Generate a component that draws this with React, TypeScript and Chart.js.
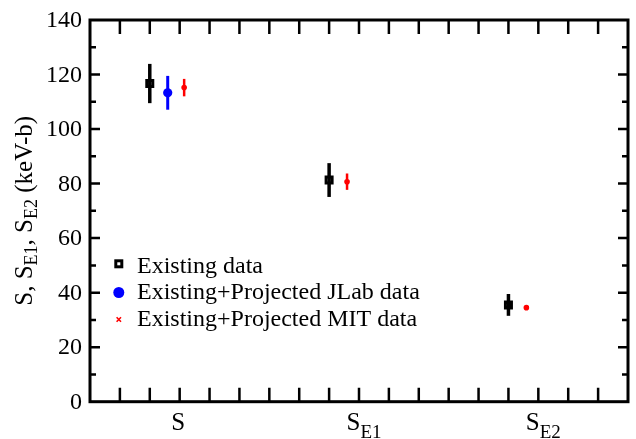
import React, { useEffect, useRef } from "react";
import { Chart, registerables } from "chart.js";

Chart.register(...registerables);

// ---- data ----
const tickMain = ["S", "S", "S"];
const tickSub = ["", "E1", "E2"];
const tickPos = [3, 9, 15];

const existingX = [2, 8, 14];
const existingY = [116.7, 81.3, 35.5];
const existingErr = [7.2, 6.2, 4.0];

const jlabX = [2.6];
const jlabY = [113.3];
const jlabErr = [6.2];

const mitX = [3.15, 8.6, 14.6];
const mitY = [115.2, 80.7, 34.5];
const mitErr = [3.2, 3.0, 0.8];

const legendLabels = [
  "Existing data",
  "Existing+Projected JLab data",
  "Existing+Projected MIT data",
];

const FONT = "'Liberation Serif', 'Times New Roman', serif";

const errorPlugin = {
  id: "errbars",
  afterDatasetsDraw(chart: any) {
    const ctx = chart.ctx;
    const ys = chart.scales.y;
    const widths = [3.5, 3, 2.5];
    const errs = [existingErr, jlabErr, mitErr];
    chart.data.datasets.forEach((ds: any, i: number) => {
      const meta = chart.getDatasetMeta(i);
      ctx.save();
      ctx.strokeStyle = ds.borderColor === "#000000" ? "#000000" : ds.backgroundColor;
      ctx.lineWidth = widths[i];
      ctx.lineCap = "butt";
      meta.data.forEach((pt: any, j: number) => {
        const v = ds.data[j].y;
        const e = errs[i][j];
        ctx.beginPath();
        ctx.moveTo(pt.x, ys.getPixelForValue(v + e));
        ctx.lineTo(pt.x, ys.getPixelForValue(v - e));
        ctx.stroke();
      });
      ctx.restore();
    });
  },
};

const framePlugin = {
  id: "frame",
  afterDraw(chart: any) {
    const ctx = chart.ctx;
    const a = chart.chartArea;
    const xs = chart.scales.x;
    const ys = chart.scales.y;
    ctx.save();
    ctx.strokeStyle = "#000";
    // ticks
    ctx.lineWidth = 2.5;
    ctx.lineCap = "butt";
    for (let v = 1; v < 18; v++) {
      const px = xs.getPixelForValue(v);
      ctx.beginPath();
      ctx.moveTo(px, a.bottom);
      ctx.lineTo(px, a.bottom - 14);
      ctx.moveTo(px, a.top);
      ctx.lineTo(px, a.top + 14);
      ctx.stroke();
    }
    for (let v = 10; v < 140; v += 10) {
      const py = ys.getPixelForValue(v);
      const len = v % 20 === 0 ? 10 : 6;
      ctx.beginPath();
      ctx.moveTo(a.left, py);
      ctx.lineTo(a.left + len, py);
      ctx.moveTo(a.right, py);
      ctx.lineTo(a.right - len, py);
      ctx.stroke();
    }
    // frame
    ctx.lineWidth = 3;
    ctx.lineJoin = "miter";
    ctx.strokeRect(a.left, a.top, a.right - a.left, a.bottom - a.top);

    // y tick labels
    ctx.fillStyle = "#000";
    ctx.font = `24px ${FONT}`;
    ctx.textAlign = "right";
    ctx.textBaseline = "middle";
    for (let v = 0; v <= 140; v += 20) {
      ctx.fillText(String(v), a.left - 8, ys.getPixelForValue(v) + 1);
    }

    // x tick labels
    ctx.textAlign = "left";
    ctx.textBaseline = "alphabetic";
    tickPos.forEach((p, i) => {
      ctx.font = `25px ${FONT}`;
      const wm = ctx.measureText(tickMain[i]).width;
      ctx.font = `19px ${FONT}`;
      const ws = tickSub[i] ? ctx.measureText(tickSub[i]).width : 0;
      const shift = tickSub[i] ? 5 : -1.5;
      const cx = xs.getPixelForValue(p) + shift;
      const x0 = cx - (wm + ws) / 2;
      ctx.font = `25px ${FONT}`;
      ctx.fillText(tickMain[i], x0, 430);
      if (tickSub[i]) {
        ctx.font = `19px ${FONT}`;
        ctx.fillText(tickSub[i], x0 + wm, 438);
      }
    });

    // y title
    const parts: [string, boolean][] = [
      ["S, S", false],
      ["E1", true],
      [", S", false],
      ["E2", true],
      [" (keV-b)", false],
    ];
    let total = 0;
    parts.forEach(([t, sub]) => {
      ctx.font = sub ? `18px ${FONT}` : `25px ${FONT}`;
      total += ctx.measureText(t).width;
    });
    ctx.save();
    ctx.translate(32, (a.top + a.bottom) / 2);
    ctx.rotate(-Math.PI / 2);
    let x = -total / 2;
    parts.forEach(([t, sub]) => {
      ctx.font = sub ? `18px ${FONT}` : `25px ${FONT}`;
      ctx.fillText(t, x, sub ? 5 : 0);
      x += ctx.measureText(t).width;
    });
    ctx.restore();

    // legend
    const mx = 118.8;
    const tx = 137;
    const baselines = [272.7, 299.3, 326];
    const my = [263.8, 292.5, 319.5];
    // black square
    ctx.fillStyle = "#fff";
    ctx.strokeStyle = "#000";
    ctx.lineWidth = 3;
    ctx.fillRect(mx - 3, my[0] - 3, 6, 6);
    ctx.strokeRect(mx - 3, my[0] - 3, 6, 6);
    // blue circle
    ctx.fillStyle = "#0000ff";
    ctx.beginPath();
    ctx.arc(mx, my[1], 5.5, 0, Math.PI * 2);
    ctx.fill();
    // red x
    ctx.strokeStyle = "#ff0000";
    ctx.lineWidth = 1.6;
    ctx.beginPath();
    ctx.moveTo(mx - 2.2, my[2] - 2.2);
    ctx.lineTo(mx + 2.2, my[2] + 2.2);
    ctx.moveTo(mx + 2.2, my[2] - 2.2);
    ctx.lineTo(mx - 2.2, my[2] + 2.2);
    ctx.stroke();
    ctx.fillStyle = "#000";
    ctx.font = `24px ${FONT}`;
    legendLabels.forEach((l, i) => ctx.fillText(l, tx, baselines[i]));
    ctx.restore();
  },
};

export default function App() {
  const ref = useRef<HTMLCanvasElement | null>(null);
  useEffect(() => {
    if (!ref.current) return;
    const chart = new Chart(ref.current, {
      type: "scatter",
      data: {
        datasets: [
          {
            label: legendLabels[0],
            data: existingX.map((x, i) => ({ x, y: existingY[i] })),
            pointStyle: "rect",
            pointRadius: 4.25,
            borderWidth: 3,
            borderColor: "#000000",
            backgroundColor: "#ffffff",
          },
          {
            label: legendLabels[1],
            data: jlabX.map((x, i) => ({ x, y: jlabY[i] })),
            pointStyle: "circle",
            pointRadius: 4.6,
            borderWidth: 0,
            borderColor: "#0000ff",
            backgroundColor: "#0000ff",
          },
          {
            label: legendLabels[2],
            data: mitX.map((x, i) => ({ x, y: mitY[i] })),
            pointStyle: "circle",
            pointRadius: 2.8,
            borderWidth: 0,
            borderColor: "#ff0000",
            backgroundColor: "#ff0000",
          },
        ],
      },
      options: {
        animation: false,
        responsive: false,
        devicePixelRatio: 1,
        layout: { padding: { left: 90, top: 20, right: 8, bottom: 37.3 } },
        scales: {
          x: { type: "linear", min: 0, max: 18, display: false },
          y: { type: "linear", min: 0, max: 140, display: false },
        },
        plugins: {
          legend: { display: false },
          tooltip: { enabled: false },
        },
      },
      plugins: [errorPlugin, framePlugin],
    });
    return () => chart.destroy();
  }, []);
  return (
    <div style={{ position: "absolute", left: 0, top: 0, width: 636, height: 439, background: "#fff" }}>
      <canvas ref={ref} width={636} height={439} style={{ display: "block" }} />
    </div>
  );
}
